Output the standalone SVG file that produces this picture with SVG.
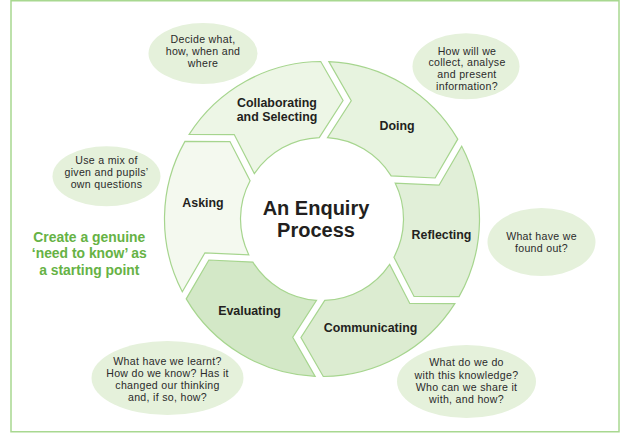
<svg xmlns="http://www.w3.org/2000/svg" xmlns:xlink="http://www.w3.org/1999/xlink" width="626" height="433" viewBox="0 0 626 433">
  <style>
    .seg { stroke: #a6d58e; stroke-width: 1.2; }
    .bubble { fill: #e5f1db; stroke: none; }
    .label { font-family: "Liberation Sans", Arial, sans-serif; font-weight: 700; font-size: 12.4px; fill: #231f20; text-anchor: middle; }
    .title { font-family: "Liberation Sans", Arial, sans-serif; font-weight: 700; font-size: 20px; fill: #231f20; text-anchor: middle; }
    .note { font-family: "Liberation Sans", Arial, sans-serif; font-size: 10.6px; letter-spacing: 0.3px; fill: #2b2b2b; text-anchor: middle; }
    .green { font-family: "Liberation Sans", Arial, sans-serif; font-weight: 700; font-size: 13.9px; fill: #66b245; text-anchor: middle; }
  </style>
  <defs>
    <path id="seg" d="M479.45,223.11 A157.5,157.5 0 0,1 404.22,353.34 L364.96,331.39 L366.32,287.39 A81.5,81.5 0 0,0 403.40,223.06 L440.75,246.19 Z"/>
  </defs>

  <rect id="frame" x="11" y="0.75" width="608" height="431" fill="#ffffff" stroke="#a8d890" stroke-width="1.5"/>

  <g id="asking">
    <use xlink:href="#seg" href="#seg" class="seg" fill="#f4f9ef" transform="rotate(151 322 219)"/>
    <text class="label" x="203" y="207">Asking</text>
  </g>
  <g id="collaborating">
    <use xlink:href="#seg" href="#seg" class="seg" fill="#edf6e6" transform="rotate(211 322 219)"/>
    <text class="label" x="277" y="107.3">Collaborating<tspan x="277" dy="14.1">and Selecting</tspan></text>
  </g>
  <g id="doing">
    <use xlink:href="#seg" href="#seg" class="seg" fill="#e7f3df" transform="rotate(271 322 219)"/>
    <text class="label" x="397" y="130">Doing</text>
  </g>
  <g id="reflecting">
    <use xlink:href="#seg" href="#seg" class="seg" fill="#e1efd8" transform="rotate(331 322 219)"/>
    <text class="label" x="441.5" y="238.5">Reflecting</text>
  </g>
  <g id="communicating">
    <use xlink:href="#seg" href="#seg" class="seg" fill="#dcecd1" transform="rotate(31 322 219)"/>
    <text class="label" x="370.5" y="332">Communicating</text>
  </g>
  <g id="evaluating">
    <use xlink:href="#seg" href="#seg" class="seg" fill="#d3e8c7" transform="rotate(91 322 219)"/>
    <text class="label" x="249.5" y="315">Evaluating</text>
  </g>

  <g id="centre">
    <text class="title" x="316" y="214.5">An Enquiry<tspan x="316" dy="22.6">Process</tspan></text>
  </g>

  <g id="bubble-decide">
    <ellipse class="bubble" cx="203" cy="53.5" rx="54.5" ry="30.5"/>
    <text class="note" x="203" y="43">Decide what,<tspan x="203" dy="12">how, when and</tspan><tspan x="203" dy="12">where</tspan></text>
  </g>
  <g id="bubble-doing">
    <ellipse class="bubble" cx="466" cy="66.3" rx="53.5" ry="33"/>
    <text class="note" x="467" y="54.5">How will we<tspan x="467" dy="11.9">collect, analyse</tspan><tspan x="467" dy="11.9">and present</tspan><tspan x="467" dy="11.9">information?</tspan></text>
  </g>
  <g id="bubble-asking">
    <ellipse class="bubble" cx="106.5" cy="176.3" rx="54" ry="30"/>
    <text class="note" x="106.5" y="164.4">Use a mix of<tspan x="106.5" dy="11.9">given and pupils’</tspan><tspan x="106.5" dy="11.9">own questions</tspan></text>
  </g>
  <g id="bubble-reflecting">
    <ellipse class="bubble" cx="541.5" cy="242" rx="54" ry="34"/>
    <text class="note" x="541.5" y="240.2">What have we<tspan x="541.5" dy="11.9">found out?</tspan></text>
  </g>
  <g id="bubble-evaluating">
    <ellipse class="bubble" cx="167.5" cy="378" rx="76" ry="37"/>
    <text class="note" x="167.5" y="364.7">What have we learnt?<tspan x="167.5" dy="12">How do we know? Has it</tspan><tspan x="167.5" dy="12">changed our thinking</tspan><tspan x="167.5" dy="12">and, if so, how?</tspan></text>
  </g>
  <g id="bubble-communicating">
    <ellipse class="bubble" cx="466.5" cy="381.5" rx="69.5" ry="36.5"/>
    <text class="note" x="466.5" y="366.4">What do we do<tspan x="466.5" dy="12.1">with this knowledge?</tspan><tspan x="466.5" dy="12">Who can we share it</tspan><tspan x="466.5" dy="12">with, and how?</tspan></text>
  </g>

  <g id="starting-point">
    <text class="green" x="89.3" y="242.4">Create a genuine<tspan x="89.3" dy="16">‘need to know’ as</tspan><tspan x="89.3" dy="16.2">a starting point</tspan></text>
  </g>
</svg>
